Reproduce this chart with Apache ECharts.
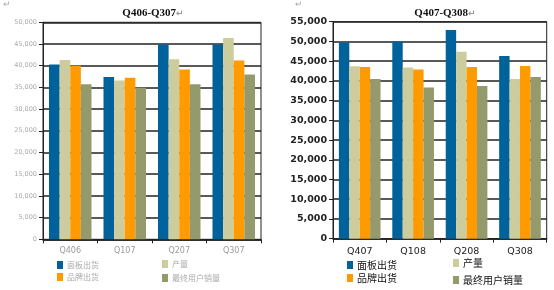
<!DOCTYPE html>
<html><head><meta charset="utf-8">
<style>html,body{margin:0;padding:0;background:#fff}#c{width:554px;height:290px}</style>
<script src="https://cdn.jsdelivr.net/npm/echarts@6/dist/echarts.min.js"></script>
</head><body><div id="c"></div>
<script>
const seriesNames = ['面板出货', '产量', '品牌出货', '最终用户销量'];
const leftCategories = ['Q406', 'Q107', 'Q207', 'Q307'];
const rightCategories = ['Q407', 'Q108', 'Q208', 'Q308'];
const leftPanel = [40300, 37400, 44900, 44900];
const leftOutput = [41300, 36600, 41500, 46400];
const leftBrand = [40000, 37200, 39100, 41200];
const leftEndUser = [35700, 34900, 35700, 38000];
const rightPanel = [49700, 50000, 52900, 46300];
const rightOutput = [43700, 43400, 47400, 40500];
const rightBrand = [43500, 42900, 43500, 43800];
const rightEndUser = [40500, 38300, 38700, 41000];
const leftTicks = {min: 0, max: 50000, interval: 5000};
const rightTicks = {min: 0, max: 55000, interval: 5000};
const colors = ['#00629b', '#cccc9c', '#ff9a00', '#959a6c'];

const fmt = v => String(v).replace(/\B(?=(\d{3})+(?!\d))/g, ',');
const cjk = '"Noto Sans CJK SC", "DejaVu Sans", sans-serif';
const chart = echarts.init(document.getElementById('c'), null, {renderer: 'canvas'});

function yAxis(idx, t, labelStyle) {
  return {
    type: 'value', gridIndex: idx, min: t.min, max: t.max, interval: t.interval,
    axisLine: {show: true, lineStyle: {color: '#222', width: 1}},
    axisTick: {show: true, length: 4, lineStyle: {color: '#222'}},
    splitLine: {show: true, lineStyle: {color: '#222', width: 1.5}},
    axisLabel: Object.assign({formatter: fmt, margin: 6}, labelStyle)
  };
}
function xAxis(idx, cats, labelStyle) {
  return {
    type: 'category', gridIndex: idx, data: cats,
    axisLine: {show: true, lineStyle: {color: '#222', width: 1.5}},
    axisTick: {show: true, length: 4, lineStyle: {color: '#222'}},
    axisLabel: Object.assign({margin: 8}, labelStyle)
  };
}
const leftData = [leftPanel, leftOutput, leftBrand, leftEndUser];
const rightData = [rightPanel, rightOutput, rightBrand, rightEndUser];
const series = [];
seriesNames.forEach((n, i) => {
  series.push({name: n, type: 'bar', xAxisIndex: 0, yAxisIndex: 0, data: leftData[i],
    itemStyle: {color: colors[i]}, barGap: '0%', barCategoryGap: '22%', silent: true});
});
seriesNames.forEach((n, i) => {
  series.push({name: n, type: 'bar', xAxisIndex: 1, yAxisIndex: 1, data: rightData[i],
    itemStyle: {color: colors[i]}, barGap: '0%', barCategoryGap: '22%', silent: true});
});

function legend(name, left, top, color, size) {
  return {data: [name], left: left, top: top, padding: 0, itemWidth: 6, itemHeight: 8, itemGap: 0,
    icon: 'rect', selectedMode: false,
    textStyle: {color: color, fontSize: size, fontFamily: cjk, padding: [0, 0, 0, -1]}};
}
const leftLegPos = [[57, 261], [162, 260], [57, 273], [162, 274]];
const rightLegPos = [[347, 260], [453, 258], [347, 273], [453, 275]];

chart.setOption({
  animation: false,
  title: [
    {text: 'Q406-Q307{a|↵}', left: 148, top: 3, textAlign: 'center',
      textStyle: {fontFamily: '"Liberation Serif", serif', fontWeight: 'bold', fontSize: 11, color: '#111',
        rich: {a: {color: '#999', fontSize: 9, fontFamily: 'DejaVu Sans'}}}},
    {text: 'Q407-Q308{a|↵}', left: 440, top: 3, textAlign: 'center',
      textStyle: {fontFamily: '"Liberation Serif", serif', fontWeight: 'bold', fontSize: 11, color: '#111',
        rich: {a: {color: '#999', fontSize: 9, fontFamily: 'DejaVu Sans'}}}}
  ],
  graphic: [
    {type: 'text', left: 3, top: 0, style: {text: '↵', fill: '#aaa', fontSize: 9}},
    {type: 'text', left: 295, top: 0, style: {text: '↵', fill: '#aaa', fontSize: 9}}
  ],
  grid: [
    {left: 43, right: 293, top: 22.3, bottom: 50.7, show: true, borderColor: '#222', borderWidth: 1},
    {left: 333, right: 7.3, top: 21.7, bottom: 51.3, show: true, borderColor: '#222', borderWidth: 1}
  ],
  xAxis: [
    xAxis(0, leftCategories, {color: '#9a9a9a', fontSize: 8, fontFamily: 'DejaVu Sans'}),
    xAxis(1, rightCategories, {color: '#222', fontSize: 9.5, fontFamily: 'DejaVu Sans'})
  ],
  yAxis: [
    yAxis(0, leftTicks, {color: '#aaa', fontSize: 6.5, fontFamily: 'DejaVu Sans'}),
    yAxis(1, rightTicks, {color: '#222', fontSize: 9.5, fontFamily: 'DejaVu Sans', fontWeight: 'bold'})
  ],
  legend: seriesNames.map((n, i) => legend(n, leftLegPos[i][0], leftLegPos[i][1], '#aaa', 8))
    .concat(seriesNames.map((n, i) => legend(n, rightLegPos[i][0], rightLegPos[i][1], '#111', 10))),
  series: series
});
</script></body></html>
